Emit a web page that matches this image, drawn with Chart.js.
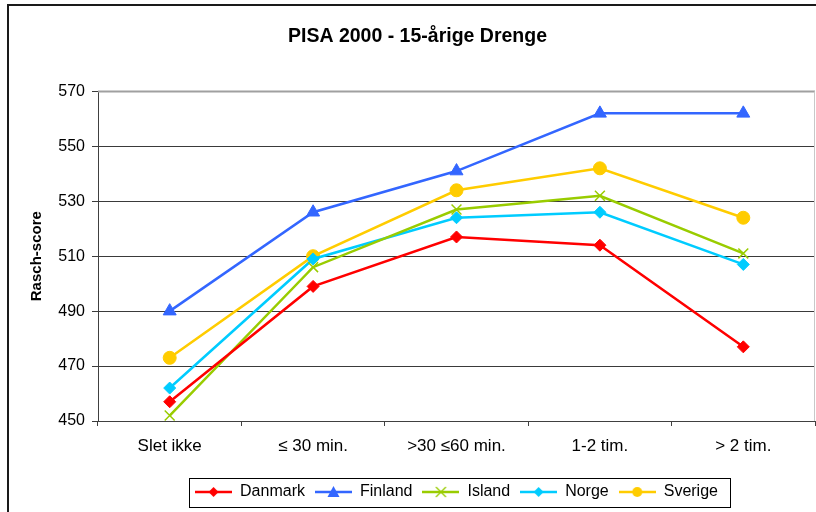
<!DOCTYPE html>
<html>
<head>
<meta charset="utf-8">
<script src="https://cdn.jsdelivr.net/npm/chart.js@4"></script>
<style>
  html, body { margin: 0; padding: 0; background: #fff; }
  #wrap { width: 816px; height: 512px; position: relative; }
</style>
</head>
<body>
<div id="wrap"><canvas id="c"></canvas></div>
<script>
// data
var categories = ['Slet ikke', '\u2264 30 min.', '>30 \u226460 min.', '1-2 tim.', '> 2 tim.'];
var danmark = [457, 499, 517, 514, 477];
var finland = [490, 526, 541, 562, 562];
var island  = [452, 506, 527, 532, 511];
var norge   = [462, 509, 524, 526, 507];
var sverige = [473, 510, 534, 542, 524];
var yTicks  = [450, 470, 490, 510, 530, 550, 570];

var names  = ['Danmark', 'Finland', 'Island', 'Norge', 'Sverige'];
var colors = ['#ff0000', '#3366ff', '#99cc00', '#00ccff', '#ffcc00'];
var styles = ['rectRot', 'triangle', 'crossRot', 'rectRot', 'circle'];
var radii  = [6, 7.5, 7, 6, 6.5];

var FONT = 'Arial, "Liberation Sans", sans-serif';

// little line+marker picture for the legend
function legendIcon(color, style){
    var cv = document.createElement('canvas');
    cv.width = 37; cv.height = 14;
    var g = cv.getContext('2d');
    g.strokeStyle = color; g.fillStyle = color; g.lineWidth = 2.5;
    g.beginPath(); g.moveTo(0, 7); g.lineTo(37, 7); g.stroke();
    var cx = 18.5, cy = 7, r = 5;
    g.beginPath();
    if(style == 'rectRot'){
        g.moveTo(cx, cy - r); g.lineTo(cx + r, cy); g.lineTo(cx, cy + r); g.lineTo(cx - r, cy); g.closePath(); g.fill();
    } else if(style == 'triangle'){
        g.moveTo(cx, cy - 6); g.lineTo(cx + 6, cy + 5); g.lineTo(cx - 6, cy + 5); g.closePath(); g.fill();
    } else if(style == 'crossRot'){
        g.lineWidth = 1.3;
        g.moveTo(cx - r, cy - r); g.lineTo(cx + r, cy + r); g.moveTo(cx + r, cy - r); g.lineTo(cx - r, cy + r); g.stroke();
    } else {
        g.arc(cx, cy, r, 0, Math.PI * 2); g.fill();
    }
    return cv;
}

var series = [danmark, finland, island, norge, sverige];
var datasets = new Array();
var icons = new Array();
for(var i = 0; i < series.length; i++){
    datasets.push({
        label: names[i],
        data: series[i],
        borderColor: colors[i],
        backgroundColor: colors[i],
        pointBackgroundColor: colors[i],
        pointBorderColor: colors[i],
        pointStyle: styles[i],
        pointRadius: radii[i],
        pointBorderWidth: styles[i] == 'crossRot' ? 1.5 : 1,
        borderWidth: 2.5,
        tension: 0,
        fill: false
    });
    icons.push(legendIcon(colors[i], styles[i]));
}

var frame = {
    id: 'frame',
    beforeDatasetsDraw: function(chart){
        var ctx = chart.ctx, a = chart.chartArea;
        ctx.save();
        ctx.strokeStyle = '#a0a0a0'; ctx.lineWidth = 2;
        ctx.beginPath(); ctx.moveTo(a.left, a.top); ctx.lineTo(a.right, a.top); ctx.stroke();
        ctx.strokeStyle = '#c8c8c8'; ctx.lineWidth = 1;
        ctx.beginPath(); ctx.moveTo(a.right - 0.5, a.top); ctx.lineTo(a.right - 0.5, a.bottom); ctx.stroke();
        ctx.restore();
    },
    afterDraw: function(chart){
        var ctx = chart.ctx;
        ctx.save();
        // outer chart border
        ctx.strokeStyle = '#1a1a1a'; ctx.lineWidth = 2;
        ctx.beginPath(); ctx.moveTo(8, 512); ctx.lineTo(8, 5); ctx.lineTo(816, 5); ctx.stroke();
        // box round the legend
        var hb = chart.legend.legendHitBoxes;
        if(hb && hb.length){
            var l = hb[0].left, r = hb[0].left + hb[0].width, t = hb[0].top;
            for(var k = 0; k < hb.length; k++){
                l = Math.min(l, hb[k].left);
                r = Math.max(r, hb[k].left + hb[k].width);
            }
            ctx.strokeStyle = '#000'; ctx.lineWidth = 1;
            ctx.strokeRect(Math.round(l - 6) + 0.5, Math.round(t - 6) + 0.5, Math.round(r - l + 18), 29);
        }
        ctx.restore();
    }
};

new Chart(document.getElementById('c'), {
    type: 'line',
    data: { labels: categories, datasets: datasets },
    plugins: [frame],
    options: {
        responsive: true,
        maintainAspectRatio: false,
        animation: false,
        layout: { autoPadding: false, padding: { left: 20, right: 1, top: 0, bottom: 2 } },
        plugins: {
            title: {
                display: true,
                text: 'PISA 2000 - 15-\u00e5rige Drenge',
                color: '#000',
                font: { family: FONT, size: 19.5, weight: 'bold' },
                padding: { top: 25, bottom: 43 }
            },
            legend: {
                position: 'bottom',
                fullSize: false,
                labels: {
                    usePointStyle: true,
                    pointStyleWidth: 37,
                    padding: 10,
                    color: '#000',
                    font: { family: FONT, size: 16 },
                    generateLabels: function(chart){
                        var items = Chart.defaults.plugins.legend.labels.generateLabels(chart);
                        items.forEach(function(it){ it.pointStyle = icons[it.datasetIndex]; });
                        return items;
                    }
                }
            },
            tooltip: { enabled: false }
        },
        scales: {
            x: {
                offset: true,
                grid: { offset: true, drawOnChartArea: false, drawTicks: true, tickLength: 5, color: '#404040' },
                border: { display: true, color: '#404040', width: 1 },
                ticks: { color: '#000', padding: 10, font: { family: FONT, size: 17 }, maxRotation: 0 },
                afterFit: function(scale){
                    scale.height = 53;
                }
            },
            y: {
                min: 450,
                max: 570,
                afterBuildTicks: function(scale){ scale.ticks = yTicks.map(function(v){ return { value: v }; }); },
                grid: { color: '#3a3a3a', lineWidth: 1, tickLength: 6 },
                border: { display: true, color: '#404040', width: 1 },
                ticks: { color: '#000', padding: 7, font: { family: FONT, size: 16 } },
                title: {
                    display: true,
                    text: 'Rasch-score',
                    color: '#000',
                    font: { family: FONT, size: 15, weight: 'bold' },
                    padding: { top: 8, bottom: 4 }
                },
                afterFit: function(scale){ scale.width = 78; }
            }
        }
    }
});
</script>
</body>
</html>
